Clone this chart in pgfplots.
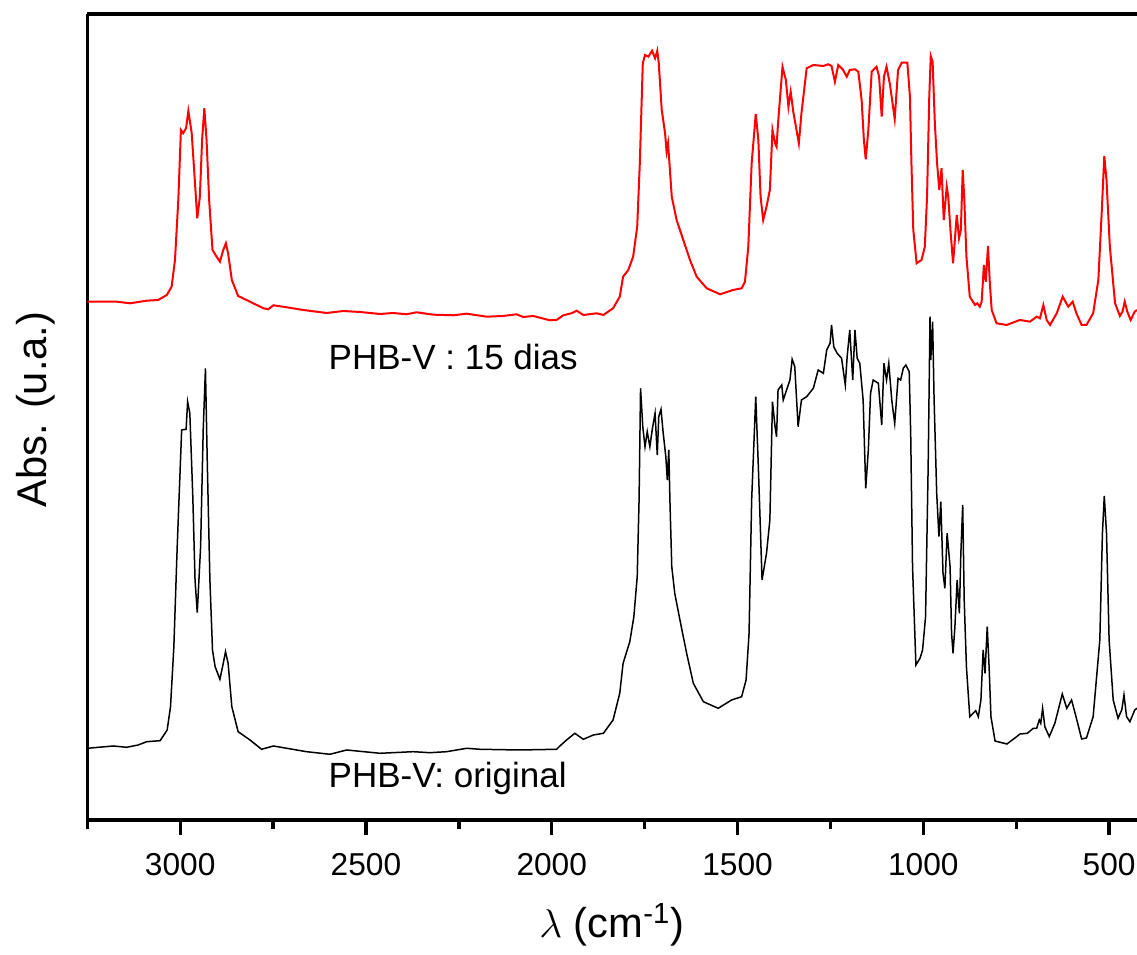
\documentclass[border=0pt]{standalone}
\usepackage{fontspec}
\setmainfont{Liberation Sans}
\usepackage{pgfplots}
\pgfplotsset{compat=1.18}
\begin{document}
\begin{tikzpicture}
\path[use as bounding box] (-26.19pt,-40.5pt) rectangle (314.91pt,246pt);
\begin{axis}[
  at={(0pt,0pt)}, anchor=south west,
  scale only axis, width=314.91pt, height=241.8pt,
  x dir=reverse, xmin=425, xmax=3250, ymin=0, ymax=806,
  axis x line=box, axis y line=left,
  axis line style={-, line width=1pt},
  xtick={500,1000,...,3000}, minor xtick={750,1250,...,3250},
  xtick pos=left, ytick=\empty,
  tick align=outside, major tick length=4.5pt, minor tick length=2.7pt,
  every tick/.style={line width=1pt, black},
  /pgf/number format/assume math mode=true,
  /pgf/number format/1000 sep={},
  ticklabel style={font=\fontsize{9.5}{11}\selectfont},
  xticklabel style={yshift=-2pt},
  xlabel={$\lambda$ (cm\textsuperscript{-1})},
  ylabel={Abs. (u.a.)},
  label style={font=\fontsize{12.5}{14}\selectfont},
  xlabel style={at={(axis description cs:0.5,0)}, anchor=center, yshift=-31.5pt},
  ylabel style={at={(axis description cs:0,0.509)}, anchor=center, yshift=15.6pt},
  clip=true,
]
\addplot[red, line width=0.6pt] table {
3250 518.3
3171 518.3
3135 516.7
3090 519.3
3059 520
3036 525
3023 533.3
3014 560
3005 620
2998 690
2992 686.7
2984 692
2978 709
2969 687
2963 653.3
2954 601.7
2947 623.3
2941 680
2935 711.7
2929 680
2922 620
2913 570
2902 563.3
2893 558.3
2884 570
2877 576.7
2871 566.7
2861 540
2844 524
2812 518.3
2776 511.7
2763 510.7
2749 514.7
2713 512.7
2669 510
2606 507
2561 509
2516 508
2462 506
2427 507
2391 505.7
2364 507.7
2319 505.3
2265 504.7
2229 506.3
2175 503.3
2131 504
2095 505.7
2077 503
2050 504
2005 499.7
1987 500
1969 504.7
1947 506.7
1933 509.3
1915 505
1879 506.7
1861 505
1835 511.7
1817 523.3
1808 543.3
1794 550
1781 563.3
1770 593.3
1763 656.7
1755 756.7
1749 765
1740 763.3
1730 769.3
1722 761.7
1716 769.3
1712 756.7
1704 710
1695 686.7
1691 668.3
1687 676.7
1682 650
1677 623.3
1664 600
1646 580
1628 560
1610 543.3
1583 531.7
1547 525.7
1512 530
1489 531.7
1480 538.3
1471 573.3
1462 656.7
1451 706
1444 680
1438 623.3
1431 600
1422 613.3
1413 630
1406 690
1399 676.7
1395 673.3
1391 696.7
1379 753.3
1370 740
1363 713.3
1357 728.3
1350 708.3
1335 676.7
1328 706.7
1314 751.7
1296 755
1269 754
1256 755.7
1247 754
1238 738.3
1229 755
1217 750.7
1206 743.3
1198 750
1184 750.7
1175 748.3
1166 720
1160 680
1155 660.7
1148 690
1139 748.3
1126 753.3
1119 743.3
1112 703.3
1106 743.3
1099 753.3
1090 736
1077 701
1068 750
1058 757.3
1043 757.3
1036 723.3
1032 656.7
1027 590
1018 556.7
1005 560
996 573.3
990 623.3
984 723.3
980 764
975 758.3
969 696.7
963 656.7
957 630
951 651.7
945 600
937 633.3
933 623.3
927 590
920 556.7
910 605
904 581.7
899 590
894 650
890 623.3
884 563.3
875 523.3
861 515
855 516.7
848 513.3
843 518.3
837 555
832 538.3
826 574
821 536.7
816 510
803 496.7
776 495
740 500
713 498.3
695 503.3
686 501.7
677 515
668 500
659 495
641 506.7
625 523.3
610 513.3
598 518.3
588 506.7
574 495
561 495
543 506.7
529 540
520 606.7
513 664
507 640
498 573.3
484 516.7
471 504
464 508.3
458 518.3
451 508.3
442 500
431 508.3
425 510
};
\addplot[black, line width=0.45pt] table {
3250 71.7
3180 74
3144 72.7
3113 75
3090 78.3
3054 79.3
3035 90
3026 113.3
3017 173.3
3008 273.3
2996 390
2984 390.7
2980 418.3
2974 406.7
2966 323.3
2960 240
2954 207.3
2945 273.3
2938 390
2932 451.7
2927 356.7
2920 240
2913 170
2906 153.3
2893 140.7
2884 156.7
2878 168.3
2871 156.7
2861 113.3
2844 88.3
2812 80
2781 70.7
2749 74
2713 71.7
2660 68.3
2597 65.7
2552 70
2462 66.7
2373 68.3
2328 67.3
2283 68.3
2229 71.7
2193 70.7
2086 70
1987 70.7
1978 74
1960 80
1938 86.7
1915 80.7
1888 85
1861 86.7
1835 100
1817 126.7
1808 156.7
1790 178.3
1779 203.3
1770 243.3
1765 320
1761 431.7
1755 393.3
1749 373.3
1743 388.3
1736 373.3
1729 391.7
1722 406.7
1716 365
1712 403.3
1706 410.7
1700 386.7
1693 363.3
1689 340
1685 370
1682 320
1677 253.3
1669 226.7
1655 200
1637 166.7
1619 136.7
1592 118.3
1552 111.7
1516 120
1489 123.3
1477 140
1469 186.7
1462 320
1451 423.3
1444 353.3
1434 240
1422 266.7
1413 300
1406 418.3
1399 393.3
1395 383.3
1391 430
1381 435
1377 420
1368 430
1359 440
1353 460.7
1346 453.3
1337 393.3
1328 420
1314 423.3
1296 431.7
1283 450
1269 446.7
1260 470
1251 476.7
1247 495
1241 473.3
1232 466.7
1220 461.7
1210 435
1205 463.3
1198 490
1190 440
1184 490
1178 461.7
1171 456.7
1162 420
1155 331.7
1148 370
1142 426.7
1135 440
1121 436.7
1112 395
1106 456.7
1099 440
1093 456.7
1085 420
1077 396.7
1068 441.7
1061 440
1054 451.7
1047 455
1038 448.3
1034 386.7
1029 253.3
1020 155
1009 161.7
1002 170
994 203.3
987 353.3
982 503.3
980 460
975 498.3
971 420
964 326.7
958 283.3
953 318.3
947 246.7
942 231.7
936 286.7
928 253.3
924 186.7
920 166.7
915 193.3
909 240
903 206.7
899 266.7
894 315
890 220
884 153.3
875 103.3
866 106.7
859 109.3
852 103.3
845 120
839 170
834 146.7
828 193.3
823 153.3
818 103.3
807 79
775 76
750 83
740 86
720 86.7
704 91.7
695 91.7
688 100
684 96.7
679 111.7
673 93.3
661 83.3
646 96.7
626 126
614 111.7
601 120
588 101.7
574 81
561 82
543 103.3
525 180
518 286.7
513 324
507 286.7
500 180
489 120
476 101.7
466 110
460 125
453 103.3
444 98.3
431 110
425 111.7
};
\node[anchor=west, inner sep=0pt, font=\fontsize{10.5}{12}\selectfont] at (axis cs:2602,463) {PHB-V : 15 dias};
\node[anchor=west, inner sep=0pt, font=\fontsize{10.5}{12}\selectfont] at (axis cs:2602,42) {PHB-V: original};
\end{axis}
\end{tikzpicture}
\end{document}
